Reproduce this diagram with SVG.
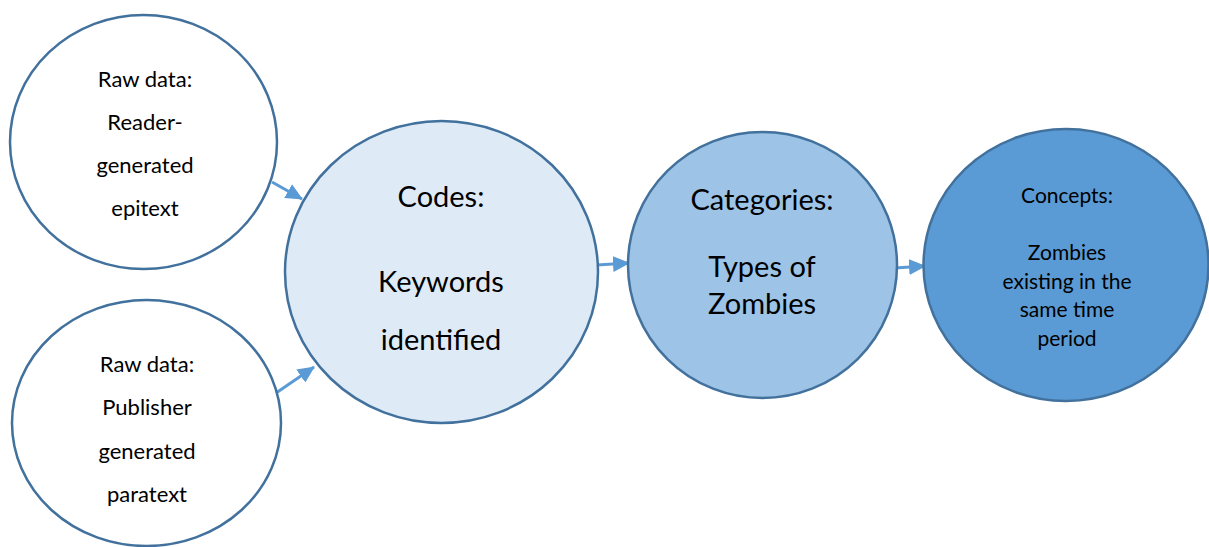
<svg xmlns="http://www.w3.org/2000/svg" width="1209" height="547" viewBox="0 0 1209 547">
  <defs>
    <style>
      .node { stroke: #41719C; stroke-width: 2.5; }
      .raw { fill: #FFFFFF; }
      .codes { fill: #DEEBF7; }
      .cats { fill: #9DC3E6; }
      .concepts { fill: #5B9BD5; }
      text { font-family: Lato, "Liberation Sans", sans-serif; fill: #000000; text-anchor: middle; }
      .small { font-size: 22px; }
      .large { font-size: 29px; }
      .mid { font-size: 21px; }
      .conn { stroke: #5B9BD5; stroke-width: 3; fill: none; marker-end: url(#head); }
    </style>
    <marker id="head" markerUnits="userSpaceOnUse" markerWidth="18" markerHeight="16" refX="16" refY="8" orient="auto">
      <path d="M0,0 L17,8 L0,16 Z" fill="#5B9BD5"/>
    </marker>
  </defs>

  <!-- connectors -->
  <g id="connectors">
    <line class="conn" x1="272" y1="182" x2="302" y2="199"/>
    <line class="conn" x1="276" y1="393" x2="314" y2="367"/>
    <line class="conn" x1="597" y1="265" x2="629" y2="263"/>
    <line class="conn" x1="895" y1="268" x2="925" y2="266"/>
  </g>

  <g id="raw-reader">
    <ellipse class="node raw" cx="143.5" cy="142" rx="133.5" ry="127"/>
    <text class="small" x="145" y="87">Raw data:</text>
    <text class="small" x="145" y="130">Reader-</text>
    <text class="small" x="145" y="173">generated</text>
    <text class="small" x="145" y="216">epitext</text>
  </g>

  <g id="raw-publisher">
    <ellipse class="node raw" cx="146.5" cy="423" rx="134.5" ry="123"/>
    <text class="small" x="147" y="372">Raw data:</text>
    <text class="small" x="147" y="415">Publisher</text>
    <text class="small" x="147" y="459">generated</text>
    <text class="small" x="147" y="502">paratext</text>
  </g>

  <g id="codes">
    <ellipse class="node codes" cx="441.5" cy="272" rx="156.5" ry="151"/>
    <text class="large" x="441" y="207">Codes:</text>
    <text class="large" x="441" y="292">Keywords</text>
    <text class="large" x="441" y="350">identified</text>
  </g>

  <g id="categories">
    <ellipse class="node cats" cx="762.5" cy="265" rx="134.5" ry="133"/>
    <text class="large" x="762" y="210">Categories:</text>
    <text class="large" x="762" y="277">Types of</text>
    <text class="large" x="762" y="314">Zombies</text>
  </g>

  <g id="concepts">
    <ellipse class="node concepts" cx="1066" cy="265" rx="142.5" ry="136"/>
    <text class="mid" x="1067" y="203">Concepts:</text>
    <text class="mid" x="1067" y="260">Zombies</text>
    <text class="mid" x="1067" y="289">existing in the</text>
    <text class="mid" x="1067" y="317">same time</text>
    <text class="mid" x="1067" y="346">period</text>
  </g>
</svg>
